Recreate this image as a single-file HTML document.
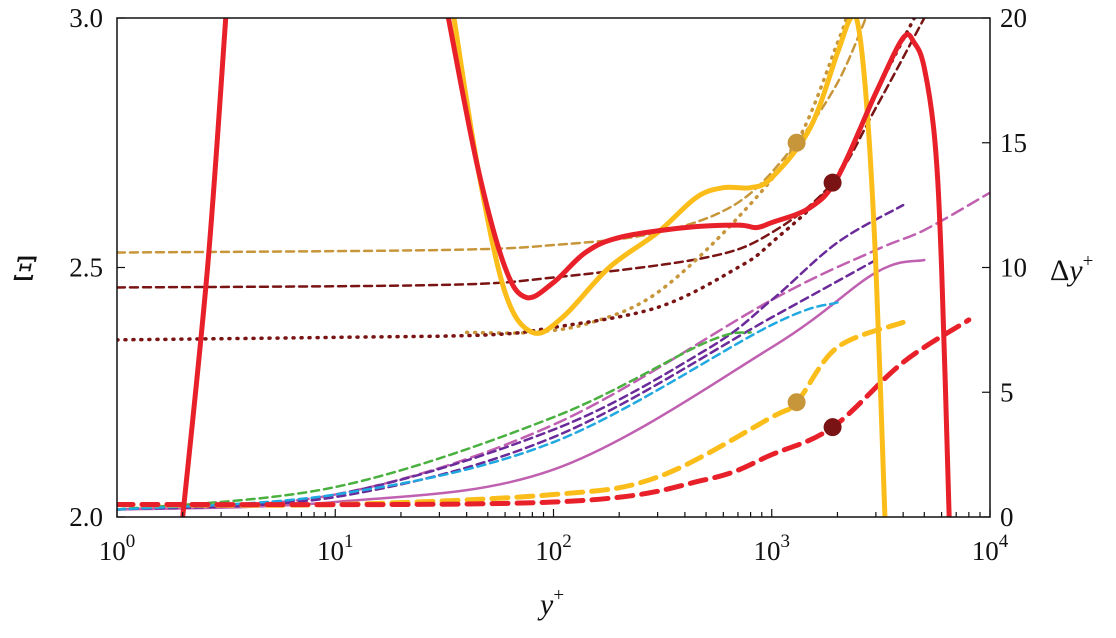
<!DOCTYPE html>
<html><head><meta charset="utf-8">
<style>
body{margin:0;background:#fff;}
svg text{font-family:"Liberation Serif",serif;fill:#111;}
</style></head>
<body>
<svg id="chart" width="1116" height="633" viewBox="0 0 1116 633" xmlns="http://www.w3.org/2000/svg">
<defs><clipPath id="clip"><rect x="117" y="18" width="873" height="499"/></clipPath></defs>
<g id="series" clip-path="url(#clip)"></g>
<rect x="117" y="18" width="873" height="499" fill="none" stroke="#111" stroke-width="1.5"/>
<g id="axes"></g>
<text x="14" y="280" font-size="32" font-style="italic" style="font-family:'DejaVu Serif',serif">Ξ</text>
<text x="1050" y="280" font-size="30">Δ<tspan font-style="italic">y</tspan><tspan font-size="19" dy="-13">+</tspan></text>
<text x="540" y="614" font-size="30"><tspan font-style="italic">y</tspan><tspan font-size="19" dy="-13">+</tspan></text>
</svg>
<script>
const xTickExps=[0,1,2,3,4];
const leftTicks=[2.0,2.5,3.0];
const rightTicks=[0,5,10,15,20];
// Xi series (left axis) [y+, Xi]
const redSolidA=[[2,2.0],[2.6,2.5],[3.15,3.0]];
const redSolidB=[[33,3.0],[45,2.7],[60,2.5],[75,2.44],[100,2.47],[140,2.53],[200,2.56],[400,2.58],[700,2.585],[850,2.58],[1000,2.59],[1500,2.62],[2000,2.68],[3000,2.85],[4000,2.96],[4500,2.95],[5000,2.9],[5600,2.75],[6000,2.5],[6500,2.0]];
const yellowSolid=[[35,3.0],[45,2.7],[60,2.45],[80,2.37],[110,2.4],[180,2.5],[300,2.57],[450,2.64],[600,2.66],[800,2.66],[1000,2.68],[1500,2.78],[2000,2.93],[2300,3.0],[2500,2.98],[2750,2.8],[3000,2.5],[3300,2.0]];
const goldDotted=[[40,2.37],[80,2.37],[150,2.39],[300,2.45],[700,2.6],[1300,2.75],[2000,2.95],[2200,3.0]];
const darkRedDotted=[[1,2.355],[10,2.36],[50,2.365],[100,2.38],[300,2.42],[700,2.5],[1000,2.55],[1900,2.67],[3000,2.85],[4500,3.0]];
const goldDashed=[[1,2.53],[30,2.535],[100,2.545],[300,2.57],[700,2.63],[1300,2.75],[2000,2.87],[2700,3.0]];
const darkRedDashed=[[1,2.46],[30,2.465],[100,2.48],[500,2.52],[1000,2.57],[1900,2.67],[3000,2.82],[5000,3.0]];
// Delta y+ series (right axis)
const purpleDashedA=[[1,0.3],[10,0.9],[100,3.5],[500,6.7],[1000,8.7],[2000,11],[4000,12.5]];
const pinkDashed=[[1,0.3],[10,0.9],[100,3.7],[1000,8.7],[3000,10.7],[5000,11.5],[10000,13]];
const pinkSolid=[[1,0.3],[10,0.6],[100,1.9],[1000,6.8],[3000,9.8],[5000,10.3]];
const greenDashed=[[1,0.3],[10,1.2],[100,4],[500,7],[800,7.4]];
const blueDashed=[[1,0.3],[10,0.9],[100,3],[1000,7.7],[2000,8.6]];
const purpleDashedB=[[1,0.3],[10,0.8],[100,3.2],[1000,8],[3000,10.3]];
const yellowThickDashed=[[1,0.5],[10,0.5],[100,0.9],[300,1.6],[1000,4],[1300,4.6],[2000,6.8],[4000,7.8]];
const redThickDashed=[[1,0.5],[100,0.6],[500,1.5],[1000,2.5],[1900,3.6],[4000,6.2],[8000,7.9]];
const markersLeft=[[1300,2.75,'#c8963a'],[1900,2.67,'#7a1414']];
const markersRight=[[1300,4.6,'#c8963a'],[1900,3.6,'#7a1414']];

const X0=117,X1=990,Y0=517,Y1=18;
const sx=v=>X0+(Math.log10(v)/4)*(X1-X0);
const syL=v=>Y0-(v-2)/1*(Y0-Y1);
const syR=v=>Y0-v/20*(Y0-Y1);
const NS='http://www.w3.org/2000/svg';
const g=document.getElementById('series');
const ax=document.getElementById('axes');
function pathD(pts){
  let d=`M${pts[0][0]},${pts[0][1]}`;
  for(let i=0;i<pts.length-1;i++){
    const p0=pts[Math.max(0,i-1)],p1=pts[i],p2=pts[i+1],p3=pts[Math.min(pts.length-1,i+2)];
    const c1=[p1[0]+(p2[0]-p0[0])/6,p1[1]+(p2[1]-p0[1])/6];
    const c2=[p2[0]-(p3[0]-p1[0])/6,p2[1]-(p3[1]-p1[1])/6];
    d+=` C${c1[0]},${c1[1]} ${c2[0]},${c2[1]} ${p2[0]},${p2[1]}`;
  }
  return d;
}
function line(data,fy,color,w,dash,name){
  const p=document.createElementNS(NS,'path');
  p.setAttribute('d',pathD(data.map(d=>[sx(d[0]),fy(d[1])])));
  p.setAttribute('fill','none');p.setAttribute('stroke',color);p.setAttribute('stroke-width',w);
  p.setAttribute('stroke-linecap','round');
  if(dash)p.setAttribute('stroke-dasharray',dash);
  
  
  g.appendChild(p);
}
line(pinkSolid,syR,'#c060b0',2.5,null,'pink-solid-line');
line(pinkDashed,syR,'#c060b0',2.5,'12 6','pink-dashed-line');
line(purpleDashedA,syR,'#6a2a9a',2.5,'8 5','purple-dashed-line-a');
line(purpleDashedB,syR,'#6a2a9a',2.5,'8 5','purple-dashed-line-b');
line(greenDashed,syR,'#4ab040',2.5,'8 5','green-dashed-line');
line(blueDashed,syR,'#20a8e0',2.5,'8 5','blue-dashed-line');
line(yellowThickDashed,syR,'#fbbd1a',5,'16 9','yellow-thick-dashed-line');
line(redThickDashed,syR,'#e8202a',5,'16 9','red-thick-dashed-line');
line(goldDashed,syL,'#c8963a',2.5,'8 5','gold-dashed-line');
line(darkRedDashed,syL,'#7a1414',2.5,'8 5','dark-red-dashed-line');
line(goldDotted,syL,'#c8963a',3.5,'1 7','gold-dotted-line');
line(darkRedDotted,syL,'#7a1414',3.5,'1 7','dark-red-dotted-line');
line(yellowSolid,syL,'#fbbd1a',5,null,'yellow-solid-line');
line(redSolidA,syL,'#e8202a',5,null,'red-solid-line-rise');
line(redSolidB,syL,'#e8202a',5,null,'red-solid-line');
function marker(m,fy,name){
  const c=document.createElementNS(NS,'circle');
  c.setAttribute('cx',sx(m[0]));c.setAttribute('cy',fy(m[1]));c.setAttribute('r',9);c.setAttribute('fill',m[2]);
  
  
  g.appendChild(c);
}
markersLeft.forEach((m,i)=>marker(m,syL,'marker-xi-'+i));
markersRight.forEach((m,i)=>marker(m,syR,'marker-dy-'+i));
function tx(x,y,s,anchor,name,html){
  const t=document.createElementNS(NS,'text');
  t.setAttribute('x',x);t.setAttribute('y',y);t.setAttribute('font-size',27);t.setAttribute('text-anchor',anchor);
  if(html)t.innerHTML=html;else t.textContent=s;
  
  
  ax.appendChild(t);
}
function tick(x1,y1,x2,y2){
  const l=document.createElementNS(NS,'line');
  l.setAttribute('x1',x1);l.setAttribute('y1',y1);l.setAttribute('x2',x2);l.setAttribute('y2',y2);
  l.setAttribute('stroke','#111');l.setAttribute('stroke-width',1.2);
  
  
  ax.appendChild(l);
}
xTickExps.forEach(e=>{
  const x=sx(Math.pow(10,e));
  tick(x,Y0,x,Y0-8);
  if(e<4)for(let k=2;k<10;k++){const xm=sx(k*Math.pow(10,e));tick(xm,Y0,xm,Y0-5);}
  tx(x,560,'','middle','x-tick-label',`10<tspan font-size="19" dy="-13">${e}</tspan>`);
});
leftTicks.forEach(v=>{const y=syL(v);tick(X0,y,X0+8,y);tx(X0-14,y+9,v.toFixed(1),'end','left-tick-label');});
rightTicks.forEach(v=>{const y=syR(v);tick(X1,y,X1-8,y);tx(X1+10,y+9,String(v),'start','right-tick-label');});
</script>
</body></html>
